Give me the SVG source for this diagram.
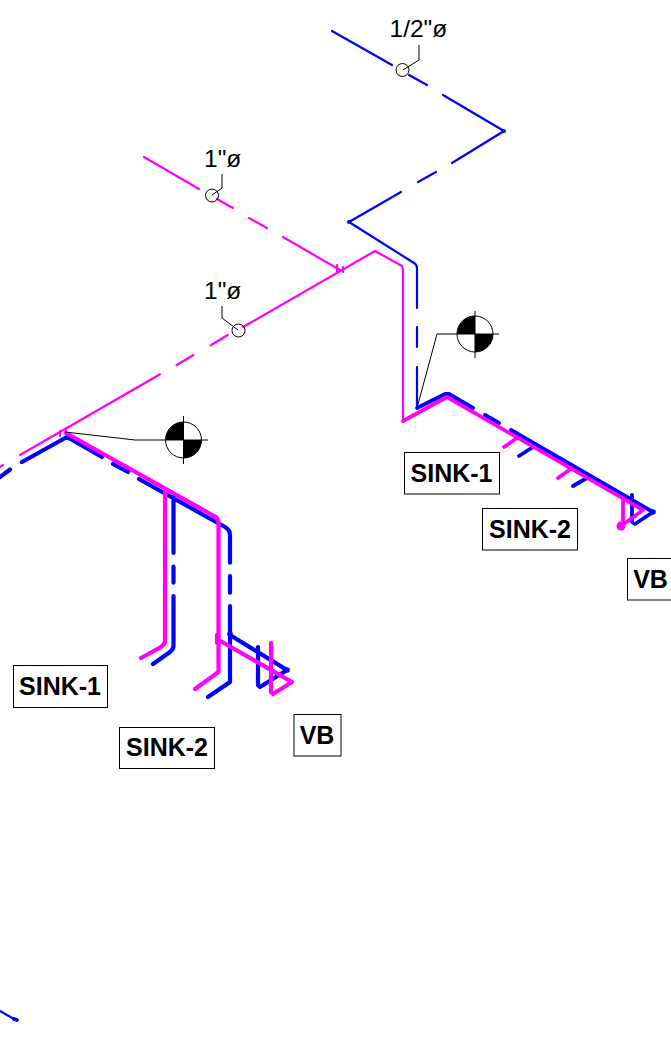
<svg xmlns="http://www.w3.org/2000/svg" width="671" height="1038" viewBox="0 0 671 1038">
<style>
.b,.m{fill:none;stroke-linecap:round;stroke-linejoin:round}
.b{stroke:#0000ff}.m{stroke:#ff00ff}
.t1{stroke-width:2.200}.t4{stroke-width:4.200}.t3{stroke-width:3.800}
.k{fill:none;stroke:#000;stroke-width:1}
.box{fill:#fff;stroke:#000;stroke-width:1}
.lab{font:bold 25px "Liberation Sans",Arial,sans-serif;text-anchor:middle;fill:#000}
.dim{font:24.500px "Liberation Sans",Arial,sans-serif;fill:#000}
</style>
<rect width="671" height="1038" fill="#fff"/>
<g id="connectors">
<path class="b t1" d="M332 31L392 65M409 75L427 85M443 95L504 131L452 163M436 172L418 182M401 192L349 222L414 263Q417 265 417 268V308M417 327V347M417 367V407"/>
<circle cx="504" cy="131" r="2" fill="#0000ff"/>
<circle cx="349" cy="222" r="2" fill="#0000ff"/>
<path class="m t1" d="M144 157L199 189M217 199L233 208M249 218L267 228M283 237L340 270M210.700 345.300L227.700 335M243 327L375 251L402 266L403 270V421M20 455L160 374.300M176.700 365L193.300 355M0 467L3 465"/>
<path class="m t1" d="M337 265V272M343 267V272M60 431V436M66 428V436"/>
<path class="b t1" d="M0 1011L14 1019"/>
<path class="b t3" d="M14 1019L17 1020"/>
<path class="b t4" d="M0 477L10 469.500M22 462L67 437L102 457M113 464L128 472M139 479L225 527Q230 530 230 535V562.700M230 576V592.700M230 606V682L208 697M173.500 497V553M173.500 566.700V582.700M173.500 596V646Q173.500 649 170 652L153 664M230 635L287 670L260 687L258 685V647"/>
<circle cx="230" cy="634" r="2.800" fill="#0000ff"/>
<circle cx="287" cy="670" r="2.800" fill="#0000ff"/>
<path class="m t4" d="M66 433L214 516Q218.500 518 218.500 523V672L195 689M165 490V641Q165 644 161 647L141 658M217 639L292 682L273 694L271 692V643M217 635V643"/>
<path class="b t3" d="M417 408L445 394H449L473 408M485 415L499 423M511 430L653 512L635 524L632 522V495M533 447L519 456M587 478L573 486"/>
<circle cx="653" cy="512" r="2.800" fill="#0000ff"/>
<path class="m t3" d="M403 421L447 397L643 510L621 526M517 438L504 447M572 468L558 478M623 500V526"/>
<circle cx="621" cy="526" r="4.500" fill="#ff00ff"/>
</g>
<g id="dim-half">
<text class="dim" x="389.500" y="37">1/2"ø</text>
<circle class="k" cx="402.500" cy="70" r="6.500"/>
<path class="k" d="M419 45V60L403 70"/>
</g>
<g id="dim-1-top">
<text class="dim" x="204" y="167">1"ø</text>
<circle class="k" cx="212" cy="195.500" r="6.500"/>
<path class="k" d="M222 174V188L212 195"/>
</g>
<g id="dim-1-lower">
<text class="dim" x="204" y="299">1"ø</text>
<circle class="k" cx="238.500" cy="330.500" r="6.500"/>
<path class="k" d="M222 306V318L238 330"/>
</g>
<g id="cg-right">
<path class="k" d="M417 408L437 334H457M475 311V358M457 334H499"/>
<circle class="k" cx="475" cy="334" r="18"/>
<path d="M475 334V316A18 18 0 0 0 457 334ZM475 334V352A18 18 0 0 0 493 334Z" fill="#000"/>
</g>
<g id="cg-left">
<path class="k" d="M65 432L135 440H165M183.500 416V464M165 440H208"/>
<circle class="k" cx="183.500" cy="440" r="18"/>
<path d="M183.500 440V422A18 18 0 0 0 165.500 440ZM183.500 440V458A18 18 0 0 0 201.500 440Z" fill="#000"/>
</g>
<g id="sink-1-left"><rect class="box" x="13.500" y="665.500" width="94" height="42"/><text class="lab" x="60" y="695">SINK-1</text></g>
<g id="sink-2-left"><rect class="box" x="119.500" y="727.500" width="95" height="41"/><text class="lab" x="167" y="756">SINK-2</text></g>
<g id="vb-left"><rect class="box" x="294" y="714.500" width="47" height="41.500"/><text class="lab" x="317" y="744">VB</text></g>
<g id="sink-1-right"><rect class="box" x="404.500" y="452.500" width="95" height="41.500"/><text class="lab" x="451.500" y="482">SINK-1</text></g>
<g id="sink-2-right"><rect class="box" x="482.500" y="508.500" width="95" height="41.500"/><text class="lab" x="530" y="538">SINK-2</text></g>
<g id="vb-right"><rect class="box" x="627.500" y="558.500" width="47" height="41.500"/><text class="lab" x="650.500" y="588">VB</text></g>
</svg>
